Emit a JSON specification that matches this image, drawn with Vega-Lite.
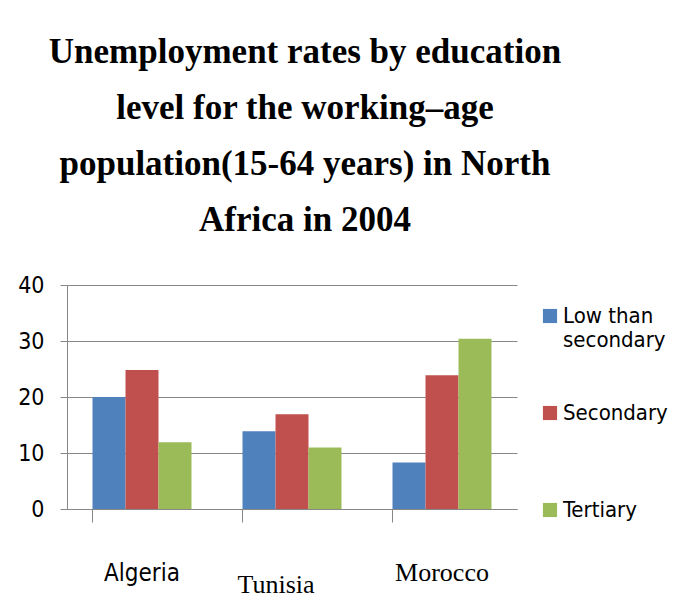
{
  "$schema": "https://vega.github.io/schema/vega-lite/v6.json",
  "autosize": "none",
  "width": 450,
  "height": 224,
  "padding": {"left": 67, "top": 285, "right": 165, "bottom": 101},
  "background": "white",
  "title": {
    "text": ["Unemployment rates by education", "level for the working–age", "population(15-64 years) in North", "Africa in 2004"],
    "font": "Liberation Serif",
    "fontSize": 35,
    "fontWeight": "bold",
    "color": "black",
    "lineHeight": 56,
    "anchor": "middle",
    "frame": "group",
    "baseline": "alphabetic",
    "offset": 8,
    "dx": 13
  },
  "data": {
    "values": [
      {"country": "Algeria", "level": "Low than secondary", "rate": 20.0},
      {"country": "Algeria", "level": "Secondary", "rate": 24.8},
      {"country": "Algeria", "level": "Tertiary", "rate": 11.9},
      {"country": "Tunisia", "level": "Low than secondary", "rate": 13.9},
      {"country": "Tunisia", "level": "Secondary", "rate": 16.9},
      {"country": "Tunisia", "level": "Tertiary", "rate": 11.0},
      {"country": "Morocco", "level": "Low than secondary", "rate": 8.3},
      {"country": "Morocco", "level": "Secondary", "rate": 23.9},
      {"country": "Morocco", "level": "Tertiary", "rate": 30.4}
    ]
  },
  "mark": {"type": "bar"},
  "encoding": {
    "x": {
      "field": "country",
      "type": "nominal",
      "sort": ["Algeria", "Tunisia", "Morocco"],
      "scale": {"paddingInner": 0.34, "paddingOuter": 0.17},
      "axis": {
        "title": null,
        "labelAngle": 0,
        "domain": true,
        "domainColor": "#878787",
        "ticks": true,
        "tickColor": "#878787",
        "tickSize": 13,
        "bandPosition": 0,
        "labelBaseline": "alphabetic",
        "labelColor": "black",
        "labelFont": {"condition": {"test": "datum.value == 'Algeria'", "value": "DejaVu Sans Condensed, Liberation Sans"}, "value": "Liberation Serif"},
        "labelFontSize": {"condition": {"test": "datum.value == 'Algeria'", "value": 24}, "value": 26},
        "labelPadding": {"condition": {"test": "datum.value == 'Tunisia'", "value": 70}, "value": 58},
        "labelOffset": {"condition": {"test": "datum.value == 'Tunisia'", "value": -16}, "value": 0}
      }
    },
    "xOffset": {"field": "level", "type": "nominal"},
    "y": {
      "field": "rate",
      "type": "quantitative",
      "scale": {"domain": [0, 40], "nice": false},
      "axis": {
        "title": null,
        "values": [0, 10, 20, 30, 40],
        "grid": true,
        "gridColor": "#878787",
        "domain": true,
        "domainColor": "#878787",
        "tickColor": "#878787",
        "tickSize": 7,
        "labelPadding": 16,
        "labelFont": "DejaVu Sans Condensed, Liberation Sans",
        "labelFontSize": 23,
        "labelColor": "black"
      }
    },
    "color": {
      "field": "level",
      "type": "nominal",
      "scale": {"domain": ["Low than secondary", "Secondary", "Tertiary"], "range": ["#4F81BD", "#C0504D", "#9BBB59"]},
      "legend": {
        "title": null,
        "orient": "none",
        "legendX": 472,
        "legendY": 20,
        "padding": 0,
        "symbolType": "square",
        "symbolSize": 200,
        "symbolStrokeWidth": 0,
        "labelExpr": "datum.label == 'Low than secondary' ? ['Low than', 'secondary'] : [datum.label, ' ']",
        "labelFont": "DejaVu Sans Condensed, Liberation Sans",
        "labelFontSize": 22,
        "labelColor": "black",
        "labelOffset": 2,
        "labelLimit": 200,
        "rowPadding": 51
      }
    }
  },
  "config": {"view": {"stroke": null}}
}
